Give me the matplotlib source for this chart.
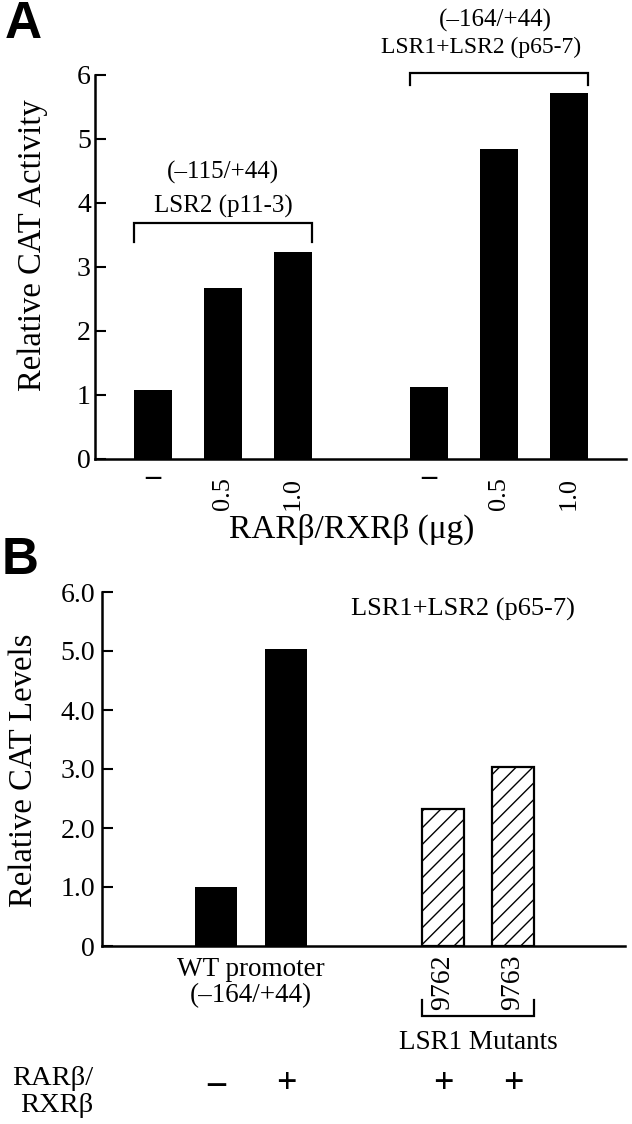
import matplotlib.pyplot as plt
import numpy as np

plt.rcParams['font.family'] = ['Liberation Serif', 'DejaVu Serif']
plt.rcParams['hatch.linewidth'] = 1.0

# panel A: relative CAT activity vs RARb/RXRb dose
a_doses = ['–', '0.5', '1.0']
a_p11 = [1.08, 2.67, 3.23]   # (-115/+44) LSR2 (p11-3)
a_p65 = [1.12, 4.85, 5.72]   # (-164/+44) LSR1+LSR2 (p65-7)
a_yticks = [0, 1, 2, 3, 4, 5, 6]

# panel B: relative CAT levels
b_wt = [1.0, 5.03]           # WT promoter, - / +
b_mut = [2.32, 3.03]         # LSR1 mutants
b_mut_names = ['9762', '9763']
b_signs = ['–', '+', '+', '+']
b_yticks = [0, 1, 2, 3, 4, 5, 6]
b_yticklabels = ['0', '1.0', '2.0', '3.0', '4.0', '5.0', '6.0']

W, H = 632, 1124
fig = plt.figure(figsize=(W / 100, H / 100), dpi=100)


def style_axes(ax):
    for s in ['top', 'right']:
        ax.spines[s].set_visible(False)
    for s in ['left', 'bottom']:
        ax.spines[s].set_linewidth(1.8)
    ax.tick_params(axis='y', direction='in', length=8, width=1.5)
    ax.tick_params(axis='x', length=0)


# ---------------- A ----------------
axA = fig.add_axes([95 / W, 1 - 459 / H, 531 / W, 384 / H])
style_axes(axA)
xa1 = np.arange(3)
xa2 = np.arange(3) + 3.94
wa = 0.54
axA.bar(xa1, a_p11, wa, color='black')
axA.bar(xa2, a_p65, wa, color='black')
axA.set_xlim(-0.83, 6.76)
axA.set_ylim(0, 6)
axA.set_yticks(a_yticks)
axA.set_yticklabels([str(t) for t in a_yticks], fontsize=20)
axA.tick_params(axis='y', pad=3)
axA.set_xticks(np.r_[xa1, xa2])
axA.set_xticklabels(a_doses * 2, rotation=90, fontsize=19)
axA.tick_params(axis='x', pad=13)
for lbl in axA.get_xticklabels():
    if lbl.get_text() == '–':
        lbl.set_rotation(0)
        lbl.set_va('center')
        lbl.set_fontsize(22)
        lbl.set_fontweight('bold')

# brackets over groups
for xs, ytop, ylow in [(xa1, 3.69, 3.39), (xa2, 6.03, 5.84)]:
    x0, x1 = xs[0] - wa / 2, xs[-1] + wa / 2
    axA.plot([x0, x0, x1, x1], [ylow, ytop, ytop, ylow], color='black',
             lw=1.6, clip_on=False, solid_joinstyle='miter')
axA.text(xa1[1], 4.47, '(–115/+44)', ha='center', va='center', fontsize=18)
axA.text(xa1[1], 3.95, 'LSR2 (p11-3)', ha='center', va='center', fontsize=18)
axA.text(xa2[1] - 0.05, 6.86, '(–164/+44)', ha='center', va='center',
         fontsize=18, clip_on=False)
axA.text(xa2[1] - 0.25, 6.43, 'LSR1+LSR2 (p65-7)', ha='center', va='center',
         fontsize=17, clip_on=False)

fig.text(352 / W, 1 - 529 / H, 'RARβ/RXRβ (μg)', ha='center', va='center',
         fontsize=24)
fig.text(33 / W, 1 - 245 / H, 'Relative CAT Activity', ha='center',
         va='center', rotation=90, fontsize=23.5)
fig.text(5 / W, 1 - 24 / H, 'A', ha='left', va='center', fontsize=37,
         fontweight='bold', family='Liberation Sans')

# ---------------- B ----------------
axB = fig.add_axes([102 / W, 1 - 946 / H, 523 / W, 354 / H])
style_axes(axB)
xb1 = np.arange(2)
xb2 = np.arange(2) + 3.24
wb = 0.6
axB.bar(xb1, b_wt, wb, color='black')
axB.bar(xb2, b_mut, wb, facecolor='white', edgecolor='black', hatch='//',
        linewidth=1.6)
axB.set_xlim(-1.63, 5.84)
axB.set_ylim(0, 6)
axB.set_yticks(b_yticks)
axB.set_yticklabels(b_yticklabels, fontsize=20)
axB.tick_params(axis='y', pad=5)
axB.set_xticks(xb2)
axB.set_xticklabels(b_mut_names, rotation=90, fontsize=20)
axB.tick_params(axis='x', pad=6)

axB.annotate('WT promoter\n(–164/+44)', xy=(xb1.mean(), 0), xycoords='data',
             xytext=(0, -8), textcoords='offset points', ha='center',
             va='top', fontsize=19.5, linespacing=1.05)

# bracket under the mutants
x0, x1 = xb2[0] - wb / 2, xb2[-1] + wb / 2
axB.plot([x0, x0, x1, x1], [-0.92, -1.19, -1.19, -0.92], color='black',
         lw=1.6, clip_on=False, solid_joinstyle='miter')
axB.text(xb2.mean(), -1.63, 'LSR1 Mutants', ha='center', va='center',
         fontsize=19.5, clip_on=False)

for x, s in zip(np.r_[xb1, xb2], b_signs):
    axB.annotate(s, xy=(x, 0), xycoords='data', xytext=(0, -100),
                 textcoords='offset points', ha='center', va='center',
                 fontsize=26, fontweight='bold')

axB.text(0.69, 0.95, 'LSR1+LSR2 (p65-7)', transform=axB.transAxes,
         ha='center', va='center', fontsize=19)

fig.text(93 / W, 1 - 1092 / H, 'RARβ/\nRXRβ', ha='right', va='center',
         multialignment='right', fontsize=20.5, linespacing=1.15)
fig.text(24 / W, 1 - 770 / H, 'Relative CAT Levels', ha='center',
         va='center', rotation=90, fontsize=23.5)
fig.text(2 / W, 1 - 561 / H, 'B', ha='left', va='center', fontsize=37,
         fontweight='bold', family='Liberation Sans')

fig.savefig('out.png', dpi=100)
